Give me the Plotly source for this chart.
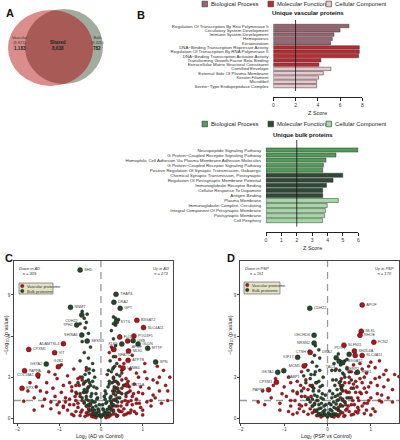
import numpy as np
import plotly.graph_objects as go

W, H = 400, 440
def X(px): return px / W
def Y(py): return 1 - py / H

FONT = "Liberation Sans"

# ---------------- Panel A (Venn) ----------------
venn_labels = ["Vascular", "Shared", "Bulk"]
venn_totals = ["(9,821)", "", "(9,420)"]
venn_counts = ["1,183", "8,638", "782"]

# ---------------- Panel B (bar charts) ----------------
vasc_terms = ["Regulation Of Transcription By Rna Polymerase Ii", "Circulatory System Development",
              "Immune System Development", "Hemopoiesis", "Keratinization",
              "DNA−Binding Transcription Repressor Activity", "Regulation Of Transcription By RNA Polymerase II",
              "DNA−Binding Transcription Activator Activity", "Transforming Growth Factor Beta Binding",
              "Extracellular Matrix Structural Constituent", "Cornified Envelope",
              "External Side Of Plasma Membrane", "Keratin Filament", "Microfibril",
              "Serine−Type Endopeptidase Complex"]
vasc_z = [6.8, 6.0, 5.45, 5.3, 5.15, 7.73, 7.73, 7.67, 4.28, 4.1, 5.18, 4.5, 4.07, 3.9, 3.9]
vasc_cat = ["BP"] * 5 + ["MF"] * 5 + ["CC"] * 5

bulk_terms = ["Neuropeptide Signaling Pathway", "G Protein−Coupled Receptor Signaling Pathway",
              "Homophilic Cell Adhesion Via Plasma Membrane Adhesion Molecules",
              "G Protein−Coupled Receptor Signaling Pathway",
              "Positive Regulation Of Synaptic Transmission, Gabaergic",
              "Chemical Synaptic Transmission, Postsynaptic", "Regulation Of Postsynaptic Membrane Potential",
              "Immunoglobulin Receptor Binding", "Cellular Response To Dopamine", "Antigen Binding",
              "Plasma Membrane", "Immunoglobulin Complex, Circulating",
              "Integral Component Of Presynaptic Membrane", "Postsynaptic Membrane", "Cell Periphery"]
bulk_z = [5.99, 4.55, 3.9, 3.73, 3.69, 4.99, 4.36, 3.93, 3.69, 3.69, 4.7, 3.98, 3.86, 3.8, 3.67]
bulk_cat = ["BP"] * 5 + ["MF"] * 5 + ["CC"] * 5

legend_names = ["Biological Process", "Molecular Function", "Cellular Component"]
vasc_colors = {"BP": "#9b6470", "MF": "#c1272d", "CC": "#ebc8ce"}
bulk_colors = {"BP": "#4f9e55", "MF": "#2e4a35", "CC": "#a3d9a4"}

# ---------------- Panel C (AD volcano) ----------------
c_names = ["SHD", "THAP4", "DRA2", "GPT", "NNMT", "CDH22", "TPH2", "SHISA6", "ADAMTSL4", "CPXM1", "VIT",
           "GSTA2", "GJB2", "PAPPA", "COL18A1", "EPX", "SYT6", "B3GAT2", "SLC4A11", "FLI1", "POU3F1", "USB",
           "APOF", "GLDN", "KLK6", "MTTP", "MLKL", "NFATC2", "ATP7B", "SPN", "LAMB4", "WNT5A", "SESN3"]
c_lx = [-0.50, 0.36, 0.31, 0.46, -0.73, -0.46, -0.58, -0.46, -0.90, -1.73, -1.11,
        -1.31, -1.02, -1.83, -1.51, -1.89, 0.37, 0.86, 1.02, 0.45, 0.79, 0.77,
        0.64, 0.89, 0.50, 1.12, 0.66, 0.31, 0.65, 1.31, 0.53, 0.62, -0.33]
c_ly = [10.82, 9.05, 8.47, 8.03, 8.10, 7.54, 6.81, 6.08, 5.45, 5.03, 4.79,
        3.96, 3.77, 3.48, 3.16, 2.19, 7.05, 7.15, 6.62, 5.93, 6.01, 5.67,
        5.64, 5.42, 5.42, 5.11, 4.91, 5.03, 4.23, 4.11, 3.67, 2.43, 5.64]
c_lsrc = ["b", "b", "b", "b", "b", "b", "b", "b", "v", "v", "v",
          "b", "v", "v", "v", "v", "b", "v", "v", "v", "v", "b",
          "v", "b", "b", "b", "v", "v", "v", "b", "v", "v", "b"]
c_lpos = ["middle right", "middle right", "middle right", "middle right", "middle right", "bottom left",
          "middle left", "middle left", "middle left", "middle right", "middle right",
          "middle left", "top center", "middle right", "middle left", "middle right", "middle right",
          "middle right", "middle right", "middle right", "middle right", "middle right",
          "bottom right", "middle right", "middle left", "middle right", "middle right", "bottom right",
          "middle right", "middle right", "middle right", "middle right", "middle right"]

c_red_x = [-1.85, -1.7, -1.6, -1.5, -1.45, -1.35, -1.3, -1.25, -1.2, -1.15, -1.1, -1.05, -1.0, -0.95, -0.9,
           -0.85, -0.8, -0.75, -0.7, -0.65, -0.6, -0.55, -0.5, -0.45, -0.4, -0.35, -0.3, -0.25, -0.2, -0.6,
           -0.8, -1.0, -0.9, -0.7, -0.5, -1.2, -1.4,
           0.2, 0.3, 0.35, 0.4, 0.45, 0.5, 0.55, 0.6, 0.65, 0.7, 0.75, 0.8, 0.85, 0.9, 0.95, 1.0, 1.05, 1.1,
           1.15, 1.2, 1.25, 1.3, 1.35, 1.4, 1.45, 1.55, 1.65, 1.6, 0.4, 0.5, 0.6, 0.45, 0.35, 0.55, 0.7, 0.3,
           0.25, 0.4, 0.5, 0.65, 0.8, 1.0, 0.9, 0.25, 0.2, 0.3, 0.38, 0.28, 0.15, -0.15, -0.3, -0.55, -0.35]
c_red_y = [1.25, 2.6, 1.5, 3.0, 2.0, 1.4, 2.6, 3.4, 1.2, 2.2, 1.6, 2.9, 1.2, 3.9, 2.4,
           1.5, 3.1, 1.0, 2.0, 3.6, 1.3, 0.8, 1.6, 0.6, 1.1, 0.4, 0.7, 0.3, 0.5, 0.5,
           0.6, 0.4, 0.9, 0.3, 0.2, 0.7, 0.9,
           0.4, 0.6, 0.3, 0.9, 0.5, 1.2, 0.7, 1.6, 0.4, 2.0, 1.0, 2.5, 1.4, 3.0, 0.8, 1.8, 3.4, 1.2,
           2.2, 0.9, 2.8, 1.5, 3.8, 2.0, 1.1, 2.4, 3.0, 1.3, 2.6, 3.3, 2.9, 3.8, 4.5, 4.0, 3.6, 1.8,
           1.2, 1.5, 2.2, 1.2, 0.5, 0.6, 1.9, 5.2, 4.8, 3.0, 2.2, 0.9, 0.2, 0.25, 2.3, 2.9, 3.5]
c_red_x2 = [-1.75, -1.55, -1.3, -1.1, -0.95, -0.75, -0.6, -0.45, -0.35, -0.25, 0.25, 0.35, 0.45, 0.55, 0.65,
            0.75, 0.85, 0.95, 1.1, 1.25, 1.4, 1.5, 1.6, 0.6, 0.7, 0.5, 0.4, 0.85, 1.2, -0.65, -0.85, -1.05,
            -0.4, -0.5, 0.3, 0.45, 0.75, 1.05, 1.35, -1.6]
c_red_y2 = [2.0, 2.3, 1.9, 3.2, 1.9, 2.6, 2.4, 1.3, 0.9, 1.1, 0.8, 1.3, 1.9, 2.4, 2.7,
            1.6, 3.3, 2.3, 2.9, 1.7, 3.0, 3.5, 2.0, 0.3, 0.4, 0.5, 0.2, 1.1, 1.3, 1.0, 1.2, 1.0,
            2.6, 3.0, 3.7, 4.3, 4.6, 4.0, 2.6, 0.6]
c_red_x3 = [-0.9, -0.75, -0.65, -0.55, -0.48, -0.42, -0.38, -0.32, -0.28, -0.22, -0.18, -0.12, 0.12, 0.18,
            0.22, 0.28, 0.32, 0.38, 0.42, 0.48, 0.55, 0.62, 0.68, 0.72, 0.78, 0.85, 0.92, 1.0, -0.7, -0.62,
            -0.52, -0.45, 0.5, 0.58, 0.65, 0.72, 0.32, 0.42, -0.35, -0.58]
c_red_y3 = [0.8, 1.4, 0.2, 1.1, 0.45, 1.9, 0.15, 0.25, 0.9, 0.15, 0.1, 0.05, 0.05, 0.1,
            0.2, 0.3, 2.3, 0.15, 0.6, 0.9, 0.25, 1.0, 2.3, 0.6, 1.8, 0.35, 1.1, 0.25, 2.3, 1.6,
            2.4, 2.8, 2.8, 1.3, 1.9, 1.3, 2.7, 2.0, 1.9, 1.8]

c_grn_x = [0, -0.05, 0.05, -0.1, 0.1, -0.15, 0.15, -0.2, 0.2, -0.25, 0.25, -0.05, 0.05, -0.12, 0.12, -0.3,
           0.3, -0.18, 0.22, -0.35, 0.35, -0.22, 0.28, -0.4, 0.4, -0.25, 0.2, -0.3, 0.3, -0.45, 0.45, -0.28,
           0.25, -0.35, 0.33, -0.2, 0.22, -0.3, 0.3, -0.4, 0.28, -0.25, 0.35, -0.45, 0.3, -0.3, 0.25, -0.38,
           0.35, -0.4, 0.3, -0.35, 0.38, -0.5, 0.5, -0.55, 0.55, -0.6, 0.6, -0.15, 0.15, -0.1, 0.1, -0.08,
           0.08, 0.45, -0.5, 0.42, -0.45, -0.33, 0.3, 0.35, -0.02, 0.02, -0.07, 0.07, -0.16, 0.16]
c_grn_y = [0.1, 0.2, 0.25, 0.4, 0.45, 0.6, 0.65, 0.8, 0.85, 1.0, 1.05, 0.5, 0.7, 0.9, 1.1, 1.3,
           1.35, 1.2, 1.5, 1.6, 1.7, 1.8, 2.0, 2.1, 2.2, 2.4, 2.5, 2.8, 2.9, 3.0, 3.1, 3.3,
           3.4, 3.7, 3.8, 4.0, 4.2, 4.4, 4.5, 4.8, 5.0, 5.2, 5.3, 5.6, 5.8, 6.2, 6.4, 6.6,
           6.8, 7.3, 7.4, 7.0, 4.0, 4.2, 3.5, 2.6, 2.4, 1.9, 1.8, 3.0, 3.2, 2.2, 2.0, 1.5,
           1.6, 6.0, 6.9, 7.2, 7.8, 7.6, 6.9, 7.3, 0.3, 0.15, 0.7, 0.35, 0.3, 0.4]
c_grn_x2 = [-0.3, -0.2, -0.1, 0.1, 0.2, 0.3, -0.35, -0.25, -0.15, 0.15, 0.25, 0.35, -0.4, -0.3, -0.2, 0.2,
            0.3, 0.4, -0.45, -0.35, 0.35, 0.45, -0.5, -0.4, 0.4, 0.5, -0.22, 0.22, -0.32, 0.32, -0.12, 0.12,
            -0.27, 0.27, -0.42, 0.42, -0.18, 0.18, -0.38, 0.38,
            -0.06, 0.06, -0.14, 0.14, -0.24, 0.24, -0.33, 0.33, -0.1, 0.1, -0.2, 0.2, -0.28, 0.28, -0.17,
            0.17, -0.36, 0.36, -0.04, 0.04]
c_grn_y2 = [0.5, 0.3, 0.2, 0.2, 0.3, 0.5, 0.9, 0.6, 0.35, 0.35, 0.6, 0.9, 1.2, 1.0, 0.7, 0.7,
            1.0, 1.2, 1.5, 1.4, 1.4, 1.5, 1.8, 1.9, 1.9, 1.8, 1.3, 1.3, 2.2, 2.2, 1.8, 1.8,
            2.6, 2.6, 2.5, 2.5, 3.5, 3.5, 3.2, 3.2,
            0.6, 0.6, 1.2, 1.2, 1.6, 1.6, 2.0, 2.0, 1.4, 1.4, 2.7, 2.7, 3.6, 3.6, 2.3,
            2.3, 2.7, 2.7, 1.0, 1.0]

# ---------------- Panel D (PSP volcano) ----------------
d_names = ["APOF", "CDH22", "MLKL", "RHOE", "FCN2", "CHCHD6", "NRSN2", "SLFN11", "CTSH", "KIF17", "PDYN",
           "SH2D4A", "B3GAT2", "SLC4A11", "DRA2", "TAC3", "SERP2", "HBE1", "MCM5", "FABP1", "GSTA2",
           "CPXM1", "PAPPA"]
d_lx = [0.80, -0.41, 0.78, 0.75, 1.07, -0.31, -0.31, 0.38, -0.40, -0.69, 0.50,
        0.62, 0.64, 0.80, 0.20, 0.27, 0.35, 0.69, -0.54, -1.01, -1.15, -1.18, -1.36]
d_ly = [8.27, 8.03, 6.36, 6.07, 5.56, 6.07, 5.49, 5.34, 4.81, 4.45, 4.67,
        4.91, 4.59, 4.59, 4.42, 4.16, 4.06, 3.36, 3.82, 3.48, 3.36, 2.63, 2.08]
d_lsrc = ["v", "b", "v", "v", "v", "b", "b", "v", "v", "b", "b",
          "v", "v", "v", "b", "b", "b", "b", "v", "b", "b", "v", "v"]
d_lpos = ["middle right", "middle right", "middle right", "middle right", "middle right", "middle left",
          "middle left", "middle right", "middle left", "middle left", "top left",
          "middle right", "bottom center", "middle right", "top left", "bottom left", "bottom right",
          "middle right", "middle left", "bottom right", "middle left", "middle left", "middle left"]

d_red_x = [-1.6, -1.5, -1.3, -1.2, -1.1, -1.0, -0.95, -0.9, -0.85, -0.8, -0.75, -0.7, -0.65, -0.6, -0.55,
           -0.5, -0.45, -0.4, -0.35, -0.3, -0.25, -0.7, -0.9, -1.1, -0.6, -0.5,
           0.2, 0.25, 0.3, 0.35, 0.4, 0.45, 0.5, 0.55, 0.6, 0.65, 0.7, 0.75, 0.8, 0.85, 0.9, 0.95, 1.0, 1.05,
           1.1, 1.15, 1.2, 1.25, 1.3, 1.35, 1.4, 1.5, 1.55, 1.65, 0.4, 0.5, 0.45, 0.6, 0.35, 0.3, 0.55, 0.7,
           0.9, 0.65, 0.8, 1.0, 1.2, 0.2, 0.15, 0.25, 0.3, 0.42, -0.2, -0.15, 0.1]
d_red_y = [1.2, 2.0, 1.5, 2.9, 1.1, 2.3, 1.6, 3.0, 0.9, 2.0, 1.3, 2.7, 0.7, 1.6, 0.5,
           1.0, 0.3, 0.7, 0.4, 1.1, 0.2, 0.4, 0.5, 0.6, 3.4, 3.9,
           0.3, 0.6, 0.9, 0.4, 1.2, 0.7, 1.9, 1.0, 2.5, 0.5, 1.5, 2.9, 0.9, 2.2, 3.3, 1.3, 2.6, 0.7,
           3.7, 1.8, 3.0, 1.2, 2.3, 3.5, 1.5, 1.2, 3.2, 3.05, 2.6, 3.0, 3.7, 3.9, 2.0, 1.5, 1.5, 0.8,
           0.6, 3.3, 3.6, 4.1, 4.2, 3.6, 0.25, 0.15, 2.4, 1.0, 0.35, 0.2, 0.15]
d_red_x2 = [-1.45, -1.25, -1.05, -0.85, -0.7, -0.55, -0.45, -0.35, -0.25, 0.25, 0.35, 0.45, 0.55, 0.65,
            0.75, 0.85, 0.95, 1.1, 1.25, 1.4, 1.5, 0.6, 0.7, 0.5, 0.4, 0.85, 1.2, -0.65, -0.8, 1.0, 1.15,
            1.3, 0.95, 0.55, 0.75, -0.4]
d_red_y2 = [1.0, 2.4, 1.8, 2.6, 1.8, 2.2, 1.4, 0.9, 0.5, 0.8, 1.3, 1.9, 2.2, 2.7,
            1.9, 3.0, 2.3, 2.9, 1.7, 2.8, 2.1, 0.3, 0.4, 0.5, 0.2, 1.1, 1.3, 1.0, 0.3, 1.5, 2.4,
            3.2, 3.8, 3.4, 4.0, 2.4]
d_red_x3 = [-0.85, -0.7, -0.6, -0.52, -0.45, -0.38, -0.3, -0.22, -0.15, 0.15, 0.22, 0.28, 0.32, 0.38,
            0.42, 0.48, 0.55, 0.62, 0.68, 0.72, 0.78, 0.85, 0.92, 1.0, 1.1, -0.62, -0.5, 0.5, 0.58, 0.65,
            0.72, 0.32, 0.42, -0.35, 0.8, 0.9]
d_red_y3 = [1.3, 1.9, 0.9, 1.6, 2.1, 1.6, 0.6, 0.2, 0.1, 0.1, 0.2, 0.3, 2.2, 0.15,
            0.6, 0.9, 0.25, 1.0, 2.3, 0.6, 1.8, 0.35, 1.1, 0.25, 0.5, 2.4, 2.8, 2.6, 1.3, 1.9,
            1.3, 2.9, 2.0, 2.4, 2.6, 1.9]

d_grn_x = [0, -0.05, 0.05, -0.1, 0.1, -0.15, 0.15, -0.2, 0.2, -0.08, 0.08, -0.25, 0.25, -0.15, 0.18,
           -0.3, 0.3, -0.2, 0.22, -0.35, 0.35, -0.25, 0.3, -0.4, 0.4, -0.3, 0.35, -0.45, 0.45, -0.25,
           0.3, -0.35, 0.4, -0.3, 0.25, -0.2, -0.28, 0.1, -0.1, 0.12, -0.12, 0.05, -0.05, 0.5, 0.55,
           -0.5, -0.55, 0.6, -0.6, 0.15, -0.18, 0.45, -0.42, 0.5, -0.45, -0.02, 0.02, -0.07, 0.07, 0.12]
d_grn_y = [0.1, 0.25, 0.3, 0.5, 0.55, 0.75, 0.8, 1.0, 1.05, 0.9, 1.0, 1.3, 1.35, 1.5, 1.6,
           1.7, 1.8, 2.0, 2.1, 2.3, 2.4, 2.6, 2.7, 2.9, 3.0, 3.2, 3.3, 3.5, 3.6, 3.8,
           3.9, 4.1, 4.2, 4.6, 4.7, 5.0, 5.3, 3.5, 3.0, 2.8, 2.4, 2.0, 1.7, 3.4, 2.8,
           2.6, 3.1, 2.2, 2.0, 4.0, 4.4, 4.3, 4.9, 1.5, 1.4, 0.2, 0.4, 0.35, 0.2, 0.3]
d_grn_x2 = [-0.3, -0.2, -0.1, 0.1, 0.2, 0.3, -0.35, -0.25, -0.15, 0.15, 0.25, 0.35, -0.4, -0.3, -0.2, 0.2,
            0.3, 0.4, -0.45, -0.35, 0.35, 0.45, -0.22, 0.22, -0.32, 0.32, -0.12, 0.12, -0.27, 0.27,
            -0.18, 0.18, -0.38, 0.38,
            -0.06, 0.06, -0.14, 0.14, -0.24, 0.24, -0.33, 0.33, -0.1, 0.1, -0.2, 0.2, -0.28, 0.28, -0.17,
            0.17, -0.04, 0.04]
d_grn_y2 = [0.5, 0.3, 0.2, 0.2, 0.3, 0.5, 0.9, 0.6, 0.35, 0.35, 0.6, 0.9, 1.2, 1.0, 0.7, 0.7,
            1.0, 1.2, 1.5, 1.4, 1.4, 1.5, 1.3, 1.3, 2.2, 2.2, 1.8, 1.8, 2.6, 2.6,
            3.5, 3.5, 3.2, 3.2,
            0.6, 0.65, 1.1, 1.2, 1.6, 1.7, 2.0, 2.1, 1.4, 1.5, 2.7, 2.8, 3.4, 3.5, 2.3,
            2.4, 1.0, 1.1]

RED = "#b3121a"
GRN = "#27472d"

fig = go.Figure()

# ---------------- Venn ----------------
shapes = []
annotations = []

def ellipse(cx, cy, rx, ry, color):
    return dict(type="circle", xref="paper", yref="paper",
                x0=X(cx - rx), x1=X(cx + rx), y0=Y(cy + ry), y1=Y(cy - ry),
                fillcolor=color, line=dict(width=0), layer="above")

E1 = (50.5, 48.0, 42.5, 38.0)
E2 = (64.0, 46.5, 39.0, 37.5)
shapes.append(ellipse(*E2, "#a0ac9c"))
shapes.append(ellipse(*E1, "#da8d8b"))

t = np.linspace(0, 2 * np.pi, 360, endpoint=False)
def inside(px, py, e):
    cx, cy, rx, ry = e
    return ((px - cx) / rx) ** 2 + ((py - cy) / ry) ** 2 <= 1.0
pts = []
for e, o in ((E1, E2), (E2, E1)):
    ex = e[0] + e[2] * np.cos(t)
    ey = e[1] + e[3] * np.sin(t)
    m = inside(ex, ey, o)
    pts += list(zip(ex[m], ey[m]))
pts = np.array(pts)
ang = np.arctan2(pts[:, 1] - 47, pts[:, 0] - 59)
pts = pts[np.argsort(ang)]
path = "M " + " L ".join(f"{X(a):.5f},{Y(b):.5f}" for a, b in pts) + " Z"
shapes.append(dict(type="path", xref="paper", yref="paper", path=path,
                   fillcolor="#a85a57", line=dict(width=0), layer="above"))

def ann(txt, px, py, size=5, xa="center", ya="middle", color="#222", bold=False, angle=0, italic=False):
    if bold:
        txt = f"<b>{txt}</b>"
    if italic:
        txt = f"<i>{txt}</i>"
    annotations.append(dict(text=txt, x=X(px), y=Y(py), xref="paper", yref="paper", showarrow=False,
                            xanchor=xa, yanchor=ya, textangle=angle,
                            font=dict(size=size, color=color, family=FONT)))

ann(venn_labels[0] + "<br>" + venn_totals[0], 20, 40, size=4, color="#333")
ann(venn_counts[0], 20, 49, size=4.6, bold=True, color="#222")
ann(venn_labels[1] + "<br>" + venn_counts[1], 58, 45, size=4.6, bold=True, color="#222")
ann(venn_labels[2] + "<br>" + venn_totals[2], 97, 40, size=4, color="#333")
ann(venn_counts[2], 97, 49, size=4.6, bold=True, color="#222")

# panel letters
ann("A", 4, 13, size=11, xa="left", bold=True, color="#111")
ann("B", 135, 15, size=11, xa="left", bold=True, color="#111")
ann("C", 3, 258, size=11, xa="left", bold=True, color="#111")
ann("D", 225, 258, size=11, xa="left", bold=True, color="#111")

# ---------------- Bar charts ----------------
def bar_legend(py, colors):
    xs = [202, 268, 326]
    for xq, key, name in zip(xs, ["BP", "MF", "CC"], legend_names):
        shapes.append(dict(type="rect", xref="paper", yref="paper", x0=X(xq), x1=X(xq + 5.5),
                           y0=Y(py + 2.8), y1=Y(py - 2.8), fillcolor=colors[key],
                           line=dict(color="#333", width=0.6)))
        ann(name, xq + 6.5, py, size=5.8, xa="left", color="#222")

bar_legend(4, vasc_colors)
bar_legend(124, bulk_colors)

ann("Unique vascular proteins", 308, 13, size=6, bold=True, color="#111")
ann("Unique bulk proteins", 303, 135, size=6, bold=True, color="#111")

fig.add_trace(go.Bar(x=vasc_z, y=list(range(len(vasc_terms))), orientation="h", width=0.8,
                     marker=dict(color=[vasc_colors[c] for c in vasc_cat], line=dict(color="#333", width=0.5)),
                     xaxis="x2", yaxis="y2", showlegend=False))
fig.add_trace(go.Bar(x=bulk_z, y=list(range(len(bulk_terms))), orientation="h", width=0.8,
                     marker=dict(color=[bulk_colors[c] for c in bulk_cat], line=dict(color="#333", width=0.5)),
                     xaxis="x3", yaxis="y3", showlegend=False))

shapes.append(dict(type="line", xref="x2", yref="y2", x0=2, x1=2, y0=-1.4, y1=15.16,
                   line=dict(color="#111", width=0.8)))
shapes.append(dict(type="line", xref="x3", yref="y3", x0=2, x1=2, y0=-1.98, y1=15.18,
                   line=dict(color="#111", width=0.8)))

ann("Z Score", 317.8, 113, size=5.5, color="#222")
ann("Z Score", 312, 248, size=5.5, color="#222")

# ---------------- Volcano plots ----------------
def volcano(xa, ya, rx, ry, gx, gy, lx, ly, lsrc, lpos, names):
    fig.add_trace(go.Scatter(x=rx, y=ry, mode="markers", xaxis=xa, yaxis=ya, showlegend=False,
                             marker=dict(size=3.2, color=RED, line=dict(color="#111", width=0.3))))
    fig.add_trace(go.Scatter(x=gx, y=gy, mode="markers", xaxis=xa, yaxis=ya, showlegend=False,
                             marker=dict(size=3.2, color=GRN, line=dict(color="#111", width=0.3))))
    fig.add_trace(go.Scatter(x=lx, y=ly, mode="markers+text", xaxis=xa, yaxis=ya, showlegend=False,
                             text=names, textposition=lpos,
                             textfont=dict(size=3.8, color="#444", family=FONT),
                             marker=dict(size=5, color=[RED if s == "v" else GRN for s in lsrc],
                                         line=dict(color="#111", width=0.4))))

volcano("x4", "y4", c_red_x + c_red_x2 + c_red_x3, c_red_y + c_red_y2 + c_red_y3,
        c_grn_x + c_grn_x2, c_grn_y + c_grn_y2, c_lx, c_ly, c_lsrc, c_lpos, c_names)
volcano("x5", "y5", d_red_x + d_red_x2 + d_red_x3, d_red_y + d_red_y2 + d_red_y3,
        d_grn_x + d_grn_x2, d_grn_y + d_grn_y2, d_lx, d_ly, d_lsrc, d_lpos, d_names)

C_XR = [-2.083, 1.726]
D_XR = [-2.021, 1.651]
V_YR = [-0.34, 11.48]

for xr, xref, yref in ((C_XR, "x4", "y4"), (D_XR, "x5", "y5")):
    shapes.append(dict(type="line", xref=xref, yref=yref, x0=0, x1=0, y0=V_YR[0], y1=V_YR[1],
                       line=dict(color="#9a9a9a", width=1.3, dash="7px,5px"), layer="below"))
    shapes.append(dict(type="line", xref=xref, yref=yref, x0=xr[0], x1=xr[1], y0=1.3, y1=1.3,
                       line=dict(color="#9a9a9a", width=1.3, dash="7px,5px"), layer="below"))

def vol_legend(x0, x1, y0, y1):
    shapes.append(dict(type="rect", xref="paper", yref="paper", x0=X(x0), x1=X(x1), y0=Y(y1), y1=Y(y0),
                       fillcolor="#e4e2c4", line=dict(color="#555", width=0.6)))
    for i, (col, name) in enumerate(((RED, "Vascular proteome"), (GRN, "Bulk proteome"))):
        cy = y0 + 3 + i * 5
        shapes.append(dict(type="circle", xref="paper", yref="paper", x0=X(x0 + 1.5), x1=X(x0 + 5),
                           y0=Y(cy + 1.75), y1=Y(cy - 1.75), fillcolor=col, line=dict(color="#111", width=0.3)))
        ann(name, x0 + 6, cy, size=4, xa="left", color="#333")

vol_legend(19, 53, 283, 294)
vol_legend(244, 280, 282, 294)

ann("Down in AD<br>n = 309", 17, 264, size=4, xa="left", ya="top", color="#333", italic=True)
ann("Up in AD<br>n = 273", 171, 264, size=4, xa="right", ya="top", color="#333", italic=True)
ann("Down in PSP<br>n = 151", 243, 264, size=4, xa="left", ya="top", color="#333", italic=True)
ann("Up in PSP<br>n = 170", 396, 264, size=4, xa="right", ya="top", color="#333", italic=True)

ann("−Log<sub>10</sub> (p value)", 6, 335, size=5.5, angle=-90, color="#222")
ann("−Log<sub>10</sub> (p value)", 230, 335, size=5.5, angle=-90, color="#222")
ann("Log<sub>2</sub> (AD vs Control)", 100, 436, size=5.2, color="#222")
ann("Log<sub>2</sub> (PSP vs Control)", 326, 436, size=5.2, color="#222")

# ---------------- Axes ----------------
tickfont = dict(size=5, color="#333", family=FONT)
vtickfont = dict(size=4.5, color="#333", family=FONT)
bar_y_font = dict(size=4.4, color="#333", family=FONT)

layout_axes = dict(
    xaxis2=dict(domain=[X(273.3), X(362.3)], range=[0, 8], anchor="y2", showgrid=False, zeroline=False,
                showline=True, linecolor="#222", linewidth=0.8, ticks="outside", ticklen=3, tickwidth=0.8,
                tickcolor="#222", tickvals=[0, 2, 4, 6, 8], tickfont=tickfont),
    yaxis2=dict(domain=[Y(97), Y(20)], range=[16.55, -1.4], anchor="x2", showgrid=False, zeroline=False,
                showline=False, tickvals=list(range(len(vasc_terms))), ticktext=vasc_terms, ticks="outside",
                ticklen=3, tickcolor="rgba(0,0,0,0)", tickfont=bar_y_font),
    xaxis3=dict(domain=[X(266), X(358.3)], range=[0, 6], anchor="y3", showgrid=False, zeroline=False,
                showline=True, linecolor="#222", linewidth=0.8, ticks="outside", ticklen=3, tickwidth=0.8,
                tickcolor="#222", tickvals=[0, 1, 2, 3, 4, 5, 6], tickfont=tickfont),
    yaxis3=dict(domain=[Y(232), Y(140)], range=[16.24, -1.98], anchor="x3", showgrid=False, zeroline=False,
                showline=False, tickvals=list(range(len(bulk_terms))), ticktext=bulk_terms, ticks="outside",
                ticklen=3, tickcolor="rgba(0,0,0,0)", tickfont=bar_y_font),
)
for xa, ya, xr, xd in (("xaxis4", "yaxis4", C_XR, [X(14), X(173)]), ("xaxis5", "yaxis5", D_XR, [X(240), X(399)])):
    n = xa[-1]
    layout_axes[xa] = dict(domain=xd, range=xr, anchor="y" + n, showgrid=False, zeroline=False,
                           showline=True, mirror=True, linecolor="#444", linewidth=0.8, ticks="outside",
                           ticklen=2, tickwidth=0.6, tickcolor="#444", tickvals=[-2, -1, 0, 1], tickfont=vtickfont)
    layout_axes[ya] = dict(domain=[Y(423), Y(261)], range=V_YR, anchor="x" + n, showgrid=False, zeroline=False,
                           showline=True, mirror=True, linecolor="#444", linewidth=0.8, ticks="outside",
                           ticklen=2, tickwidth=0.6, tickcolor="#444", tickvals=[0, 3, 6, 9], tickfont=vtickfont)

fig.update_layout(
    width=W, height=H, margin=dict(l=0, r=0, t=0, b=0, autoexpand=False),
    paper_bgcolor="white", plot_bgcolor="white", showlegend=False,
    font=dict(family=FONT, color="#222"),
    xaxis=dict(visible=False, domain=[0, 0.01]), yaxis=dict(visible=False, domain=[0, 0.01]),
    shapes=shapes, annotations=annotations, bargap=0.2,
    **layout_axes,
)

fig.write_html("out.html", config={"displayModeBar": False},
               post_script="document.body.style.margin='0';document.body.style.overflow='hidden';")
